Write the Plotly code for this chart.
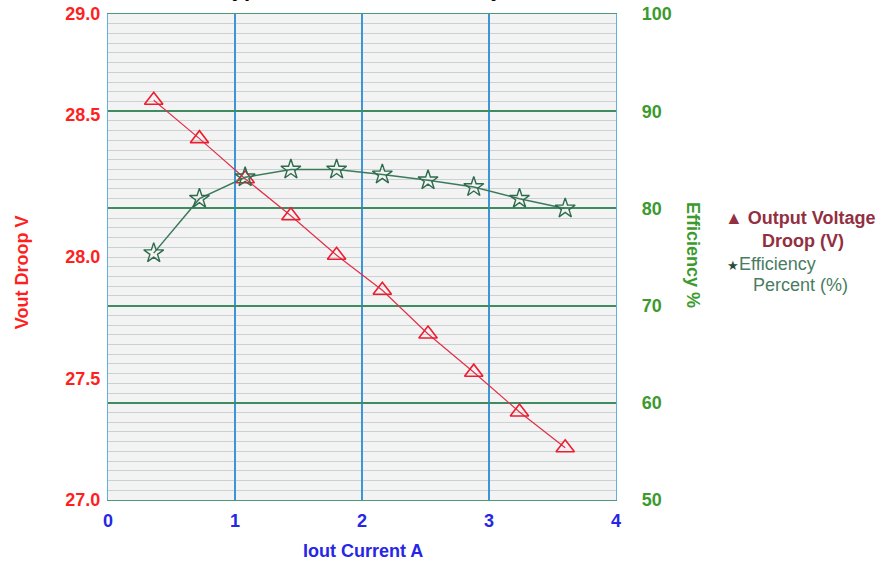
import plotly.graph_objects as go

# ---- data ----
current_a = [0.36, 0.72, 1.08, 1.44, 1.80, 2.16, 2.52, 2.88, 3.24, 3.60]
vout_droop_v = [28.645, 28.487, 28.322, 28.170, 28.007, 27.863, 27.683, 27.526, 27.362, 27.215]
efficiency_pct = [75.4, 81.0, 83.2, 84.0, 84.0, 83.5, 82.9, 82.2, 81.0, 80.0]

x_ticks = [0, 1, 2, 3, 4]
left_tickvals = [27.0, 27.5, 28.0, 28.584, 29.0]
left_ticktext = ["27.0", "27.5", "28.0", "28.5", "29.0"]
right_ticks = [50, 60, 70, 80, 90, 100]

FONT = "Liberation Sans, Arial, sans-serif"
RED = "#ff1f1f"
GREEN_TXT = "#3c9a2e"
BLUE_TXT = "#2626e6"

fig = go.Figure()
fig.add_trace(go.Scatter(
    x=current_a, y=vout_droop_v, mode="lines+markers", yaxis="y",
    name="Output Voltage Droop (V)",
    line=dict(color="#e03048", width=1.2),
    marker=dict(symbol="triangle-up-open", size=16, color="#ee1c30", line=dict(width=1.6, color="#ee1c30")),
))
fig.add_trace(go.Scatter(
    x=current_a, y=efficiency_pct, mode="lines+markers", yaxis="y2",
    name="Efficiency Percent (%)",
    line=dict(color="#3d7a5c", width=1.5),
    marker=dict(symbol="star-open", size=15, color="#2f6b4c", line=dict(width=1.4, color="#2f6b4c")),
))

fig.update_layout(
    width=885, height=563, autosize=False,
    margin=dict(l=108, r=269, t=14, b=63, pad=0),
    paper_bgcolor="white", plot_bgcolor="#f3f3f3",
    showlegend=False,
    font=dict(family=FONT, size=18),
    xaxis=dict(
        range=[0, 4], tickmode="array", tickvals=x_ticks,
        ticktext=[str(v) for v in x_ticks],
        tickfont=dict(family=FONT, size=18, color=BLUE_TXT, weight="bold"),
        showgrid=True, gridcolor="#3a96d8", gridwidth=1.5,
        zeroline=False, showline=True, linecolor="#4d9a78", linewidth=1.2, mirror=True,
        ticks="", ticklabelstandoff=4, automargin=False, ticklabeloverflow="allow",
    ),
    yaxis=dict(
        range=[27, 29], tickmode="array", tickvals=left_tickvals, ticktext=left_ticktext,
        tickfont=dict(family=FONT, size=18, color=RED, weight="bold"),
        showgrid=False,
        minor=dict(tickmode="linear", tick0=27, dtick=0.04, showgrid=True,
                   gridcolor="#c9d2d2", gridwidth=1),
        zeroline=False, showline=True, linecolor="#62b2dc", linewidth=1.2,
        ticks="", ticklabelstandoff=3, automargin=False, ticklabeloverflow="allow",
    ),
    yaxis2=dict(
        range=[50, 100], overlaying="y", side="right",
        tickmode="array", tickvals=right_ticks, ticktext=[str(v) for v in right_ticks],
        tickfont=dict(family=FONT, size=18, color=GREEN_TXT, weight="bold"),
        showgrid=True, gridcolor="#3f8c62", gridwidth=1.8,
        zeroline=False, showline=True, linecolor="#62b2dc", linewidth=1.2,
        ticks="", ticklabelstandoff=21, automargin=False, ticklabeloverflow="allow",
    ),
)

ann = []
# title: only its lowest pixels are visible at the top edge in the reference
ann.append(dict(text="Typical Vout and Efficiency", xref="paper", yref="paper",
                x=0.5, y=1, xanchor="center", yanchor="bottom", yshift=11, showarrow=False,
                font=dict(family=FONT, size=22, color="black", weight="bold")))
# axis titles
ann.append(dict(text="Vout Droop V", xref="paper", yref="paper",
                x=-0.169, y=0.469, xanchor="center", yanchor="middle", textangle=-90,
                showarrow=False, font=dict(family=FONT, size=18, color=RED, weight="bold")))
ann.append(dict(text="Efficiency %", xref="paper", yref="paper",
                x=1.1516, y=0.504, xanchor="center", yanchor="middle", textangle=90,
                showarrow=False, font=dict(family=FONT, size=18, color=GREEN_TXT, weight="bold")))
ann.append(dict(text="Iout Current A", xref="paper", yref="paper",
                x=0.502, y=-0.105, xanchor="center", yanchor="middle",
                showarrow=False, font=dict(family=FONT, size=18, color=BLUE_TXT, weight="bold")))
# legend (text based)
LEG_RED = "#923042"
LEG_GREEN = "#4a7c62"
ann.append(dict(text="▲ Output Voltage", xref="paper", yref="paper",
                x=1.2100, y=0.580, xanchor="left", yanchor="middle", showarrow=False,
                font=dict(family=FONT, size=18, color=LEG_RED, weight="bold")))
ann.append(dict(text="Droop (V)", xref="paper", yref="paper",
                x=1.283, y=0.533, xanchor="left", yanchor="middle", showarrow=False,
                font=dict(family=FONT, size=18, color=LEG_RED, weight="bold")))
ann.append(dict(text="<span style='font-size:13px;color:#2a4a3a'>★</span>Efficiency", xref="paper", yref="paper",
                x=1.2150, y=0.4856, xanchor="left", yanchor="middle", showarrow=False,
                font=dict(family=FONT, size=18, color=LEG_GREEN)))
ann.append(dict(text="Percent (%)", xref="paper", yref="paper",
                x=1.266, y=0.442, xanchor="left", yanchor="middle", showarrow=False,
                font=dict(family=FONT, size=18, color=LEG_GREEN)))
fig.update_layout(annotations=ann)

# remove the default 8px page margin so the figure fills the window exactly
fig.write_html("out.html", config={"displayModeBar": False},
               post_script="document.body.style.margin='0';")
